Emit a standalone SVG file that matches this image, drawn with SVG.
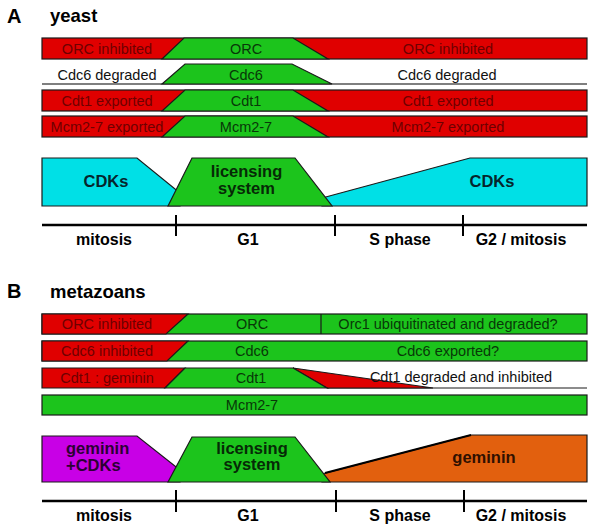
<svg xmlns="http://www.w3.org/2000/svg" width="600" height="528" viewBox="0 0 600 528">
<style>
.t{font-family:"Liberation Sans",Arial,sans-serif;font-size:14.5px;text-anchor:middle}
.tr{fill:#6e0000}
.tg{fill:#083808}
.tk{fill:#111}
.b{font-family:"Liberation Sans",Arial,sans-serif;font-weight:bold;font-size:16.5px;text-anchor:middle}
.ax{font-size:16px}
.st{text-anchor:start}
.h{font-family:"Liberation Sans",Arial,sans-serif;font-weight:bold;font-size:18.5px}
.big{font-size:20px}
.red{fill:#e00000;stroke:#1a1a1a;stroke-width:1.2}
.grn{fill:#1cc41c;stroke:#1a1a1a;stroke-width:1.2}
.cy{fill:#00e0e6;stroke:#1a1a1a;stroke-width:1.2}
.pu{fill:#c800e6;stroke:#1a1a1a;stroke-width:1.2}
.or{fill:#e2600e;stroke:#1a1a1a;stroke-width:1.2}
.axis{stroke:#000;stroke-width:2.5;fill:none}
.tick{stroke:#000;stroke-width:2;fill:none}
</style>
<rect width="600" height="528" fill="#fff"/>

<!-- Panel A -->
<text class="h big" x="7" y="23">A</text>
<text class="h" x="50" y="22">yeast</text>

<g id="a-orc">
<rect class="red" x="42" y="38" width="545" height="21"/>
<polygon class="grn" points="162,59 184,38 293,38 328,59"/>
<text class="t tr" x="107" y="53.5">ORC inhibited</text>
<text class="t tg" x="246" y="53.5">ORC</text>
<text class="t tr" x="448" y="53.5">ORC inhibited</text>
</g>
<g id="a-cdc6">
<line x1="42" y1="84" x2="587" y2="84" stroke="#555" stroke-width="1.5"/>
<polygon class="grn" points="162,84 185,64 292,64 332,84"/>
<text class="t tk" x="107" y="79.5">Cdc6 degraded</text>
<text class="t tg" x="246" y="79.5">Cdc6</text>
<text class="t tk" x="447" y="79.5">Cdc6 degraded</text>
</g>
<g id="a-cdt1">
<rect class="red" x="42" y="90" width="545" height="21"/>
<polygon class="grn" points="162,111 185,90 293,90 328,111"/>
<text class="t tr" x="107" y="105.5">Cdt1 exported</text>
<text class="t tg" x="246" y="105.5">Cdt1</text>
<text class="t tr" x="448" y="105.5">Cdt1 exported</text>
</g>
<g id="a-mcm">
<rect class="red" x="42" y="116" width="545" height="21"/>
<polygon class="grn" points="162,137 185,116 293,116 328,137"/>
<text class="t tr" x="107" y="131.5">Mcm2-7 exported</text>
<text class="t tg" x="246" y="131.5">Mcm2-7</text>
<text class="t tr" x="448" y="131.5">Mcm2-7 exported</text>
</g>

<g id="a-cdks-left">
<polygon class="cy" points="42,158 137,158 180,193 180,206 42,206"/>
<text class="b" x="106" y="187" fill="#06262c">CDKs</text>
</g>
<g id="a-cdks-right">
<polygon class="cy" points="322,198 470,158 587,158 587,206 322,206"/>
<text class="b" x="492" y="187" fill="#06262c">CDKs</text>
</g>
<g id="a-licensing">
<polygon class="grn" points="168,206 192,158 295,158 332,206"/>
<text class="b" x="246.5" y="177" fill="#062a06">licensing</text>
<text class="b" x="246.5" y="193.5" fill="#062a06">system</text>
</g>

<g id="a-timeline">
<line class="axis" x1="42" y1="225" x2="587" y2="225"/>
<line class="tick" x1="176" y1="215" x2="176" y2="236"/>
<line class="tick" x1="335" y1="215" x2="335" y2="236"/>
<line class="tick" x1="463" y1="215" x2="463" y2="236"/>
<text class="b ax" x="104" y="245">mitosis</text>
<text class="b ax" x="248" y="245">G1</text>
<text class="b ax" x="400" y="245">S phase</text>
<text class="b ax" x="521" y="245">G2 / mitosis</text>
</g>

<!-- Panel B -->
<text class="h big" x="7" y="298">B</text>
<text class="h" x="50" y="298">metazoans</text>

<g id="b-orc">
<rect class="grn" x="42" y="314" width="545" height="20"/>
<polygon class="red" points="42,314 188,314 166,334 42,334"/>
<line x1="321" y1="314" x2="321" y2="334" stroke="#1a1a1a" stroke-width="1.2"/>
<text class="t tr" x="107" y="329.3">ORC inhibited</text>
<text class="t tg" x="252" y="329.3">ORC</text>
<text class="t tg" x="448" y="329.3">Orc1 ubiquitinated and degraded?</text>
</g>
<g id="b-cdc6">
<rect class="grn" x="42" y="341" width="545" height="20"/>
<polygon class="red" points="42,341 188,341 167,361 42,361"/>
<text class="t tr" x="107" y="356.3">Cdc6 inhibited</text>
<text class="t tg" x="252" y="356.3">Cdc6</text>
<text class="t tg" x="448" y="356.3">Cdc6 exported?</text>
</g>
<g id="b-cdt1">
<line x1="327" y1="388" x2="587" y2="388" stroke="#1a1a1a" stroke-width="1.2"/>
<polygon class="red" points="42,368 185,368 165,388 42,388"/>
<polygon class="red" points="293,368 433,388 327,388"/>
<polygon class="grn" points="165,388 185,368 293,368 327,388"/>
<text class="t tr" x="107" y="383.3">Cdt1 : geminin</text>
<text class="t tg" x="251" y="383.3">Cdt1</text>
<text class="t tk" x="461" y="381.5">Cdt1 degraded and inhibited</text>
</g>
<g id="b-mcm">
<rect class="grn" x="42" y="395" width="545" height="20"/>
<text class="t tg" x="252" y="410.3">Mcm2-7</text>
</g>

<g id="b-geminin-cdks">
<polygon class="pu" points="42,436 137,436 180,470 180,482 42,482"/>
<text class="b st" x="66" y="454" fill="#2c0034">geminin</text>
<text class="b st" x="66" y="470.5" fill="#2c0034">+CDKs</text>
</g>
<g id="b-geminin">
<polygon class="or" points="322,474 471,435 587,435 587,482 322,482"/>
<line x1="325" y1="473" x2="471" y2="435" stroke="#000" stroke-width="2.2"/>
<text class="b" x="484" y="463" fill="#301000">geminin</text>
</g>
<g id="b-licensing">
<polygon class="grn" points="168,482 192,437 295,437 330,482"/>
<text class="b" x="252" y="453.5" fill="#062a06">licensing</text>
<text class="b" x="252" y="470" fill="#062a06">system</text>
</g>

<g id="b-timeline">
<line class="axis" x1="42" y1="501" x2="587" y2="501"/>
<line class="tick" x1="176" y1="490" x2="176" y2="512"/>
<line class="tick" x1="336" y1="490" x2="336" y2="512"/>
<line class="tick" x1="464" y1="490" x2="464" y2="512"/>
<text class="b ax" x="104" y="521">mitosis</text>
<text class="b ax" x="248" y="521">G1</text>
<text class="b ax" x="400" y="521">S phase</text>
<text class="b ax" x="521" y="521">G2 / mitosis</text>
</g>
</svg>
